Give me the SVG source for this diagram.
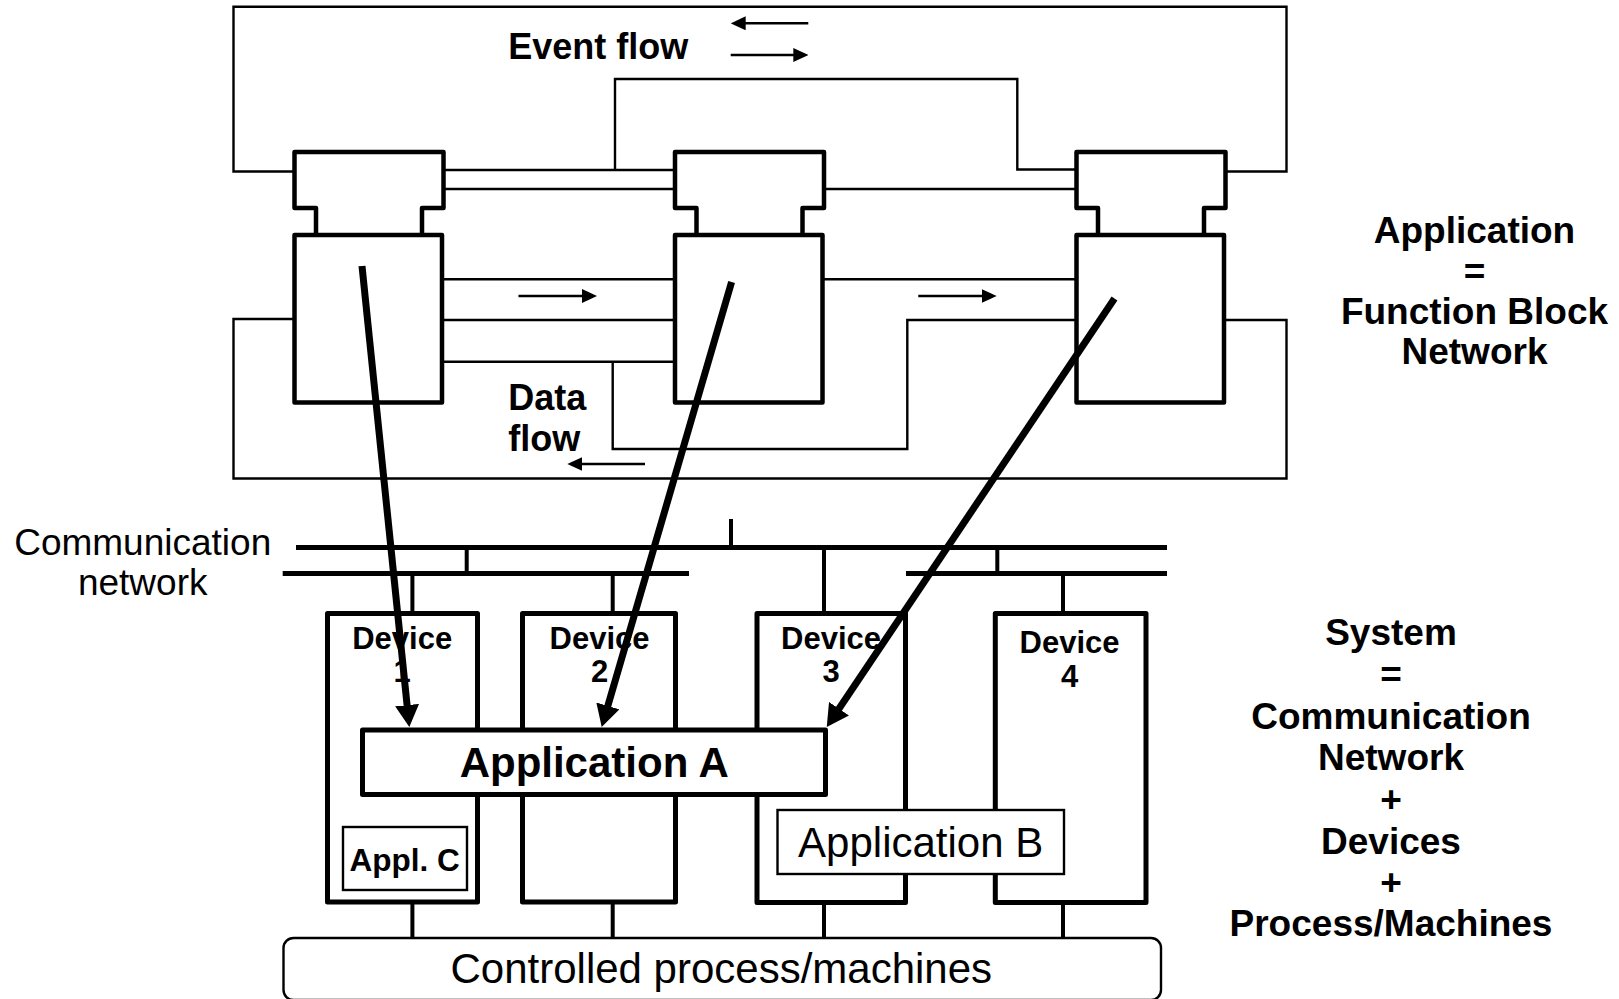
<svg xmlns="http://www.w3.org/2000/svg" xmlns:xlink="http://www.w3.org/1999/xlink" width="1619" height="999" viewBox="0 0 1619 999">
  <style>
    text { font-family: "Liberation Sans", Arial, Helvetica, sans-serif; fill: #000; }
    .b { font-weight: bold; }
    .mid { text-anchor: middle; }
    .thin { fill: none; stroke: #000; stroke-width: 2.4; }
    .fb { fill: #fff; stroke: #000; stroke-width: 4.5; stroke-linejoin: round; }
    .box { fill: #fff; stroke: #000; stroke-width: 5; stroke-linejoin: round; }
    .sub { fill: #fff; stroke: #000; stroke-width: 2.4; }
    .bus { stroke: #000; stroke-width: 5; }
    .tap { stroke: #000; stroke-width: 4; }
    .map { stroke: #000; stroke-width: 7; fill: none; marker-end: url(#head-l); }
    .flow { stroke: #000; stroke-width: 2.4; fill: none; marker-end: url(#head-s); }
  </style>
  <defs>
    <marker id="head-s" viewBox="0 0 15 14" refX="3" refY="7" markerWidth="15" markerHeight="14" markerUnits="userSpaceOnUse" orient="auto">
      <path d="M0,0 L15,7 L0,14 z" fill="#000"/>
    </marker>
    <marker id="head-l" viewBox="0 0 22 24" refX="7" refY="12" markerWidth="22" markerHeight="24" markerUnits="userSpaceOnUse" orient="auto">
      <path d="M0,0 L22,12 L0,24 z" fill="#000"/>
    </marker>
    <!-- function block: event head on top, algorithm body below -->
    <g id="fb-shape">
      <path class="fb" d="M21.5,235 V208 H0 V152 H149 V208 H127.5 V235"/>
      <rect class="fb" x="0" y="235" width="147.5" height="167.5"/>
    </g>
  </defs>

  <rect width="1619" height="999" fill="#fff"/>

  <!-- event and data connections of the function block network -->
  <g id="connectors">
    <!-- event feedback loop FB3 -> FB1 (top) -->
    <polyline class="thin" points="1225,171.5 1286.5,171.5 1286.5,6.7 233.5,6.7 233.5,171.5 294.5,171.5"/>
    <!-- event FB1 -> FB2, branch to FB3 -->
    <line class="thin" x1="443.5" y1="170" x2="675" y2="170"/>
    <polyline class="thin" points="615,170 615,79 1017.3,79 1017.3,169.5 1077,169.5"/>
    <line class="thin" x1="443.5" y1="189" x2="675" y2="189"/>
    <line class="thin" x1="823" y1="189" x2="1077" y2="189"/>
    <!-- data FB1 -> FB2 -->
    <line class="thin" x1="441.5" y1="279.3" x2="675" y2="279.3"/>
    <line class="thin" x1="441.5" y1="320" x2="675" y2="320"/>
    <line class="thin" x1="441.5" y1="361.7" x2="675" y2="361.7"/>
    <!-- data branch to FB3 -->
    <polyline class="thin" points="612.7,361.7 612.7,449 907.3,449 907.3,320 1076.5,320"/>
    <!-- data FB2 -> FB3 -->
    <line class="thin" x1="822" y1="279.3" x2="1076.5" y2="279.3"/>
    <!-- data feedback loop FB3 -> FB1 (bottom) -->
    <polyline class="thin" points="1224,320 1286.5,320 1286.5,478.5 233.5,478.5 233.5,319 294.5,319"/>

    <!-- direction indicators -->
    <line class="flow" x1="808.3" y1="23.3" x2="742.7" y2="23.3"/>
    <line class="flow" x1="730.7" y1="55" x2="796.3" y2="55"/>
    <line class="flow" x1="518.5" y1="296" x2="585" y2="296"/>
    <line class="flow" x1="918.3" y1="296" x2="984.7" y2="296"/>
    <line class="flow" x1="645" y1="464" x2="579.3" y2="464"/>

    <!-- communication network buses -->
    <line class="bus" x1="296" y1="547.5" x2="1167" y2="547.5"/>
    <line class="bus" x1="282.7" y1="573.5" x2="689" y2="573.5"/>
    <line class="bus" x1="906" y1="573.5" x2="1167" y2="573.5"/>
    <line class="tap" x1="731" y1="519" x2="731" y2="547.5"/>
    <line class="tap" x1="466.7" y1="547.5" x2="466.7" y2="573.5"/>
    <line class="tap" x1="997.3" y1="547.5" x2="997.3" y2="573.5"/>
    <line class="tap" x1="412.4" y1="573.5" x2="412.4" y2="613.5"/>
    <line class="tap" x1="612.7" y1="573.5" x2="612.7" y2="613.5"/>
    <line class="tap" x1="824" y1="547.5" x2="824" y2="613.5"/>
    <line class="tap" x1="1063" y1="573.5" x2="1063" y2="613.5"/>
    <!-- device to process links -->
    <line class="tap" x1="412.4" y1="902" x2="412.4" y2="938"/>
    <line class="tap" x1="612.7" y1="902" x2="612.7" y2="938"/>
    <line class="tap" x1="824" y1="902" x2="824" y2="938"/>
    <line class="tap" x1="1063" y1="902" x2="1063" y2="938"/>
  </g>

  <!-- function blocks -->
  <g id="fb1"><use xlink:href="#fb-shape" href="#fb-shape" x="294.5" y="0"/></g>
  <g id="fb2"><use xlink:href="#fb-shape" href="#fb-shape" x="675" y="0"/></g>
  <g id="fb3"><use xlink:href="#fb-shape" href="#fb-shape" x="1076.5" y="0"/></g>

  <!-- flow labels -->
  <g id="flow-labels" class="b">
    <text x="508.3" y="59" font-size="36">Event flow</text>
    <text x="508.3" y="410" font-size="36">Data</text>
    <text x="508.3" y="451" font-size="36">flow</text>
  </g>

  <g id="network-label">
    <text class="mid" x="142.7" y="555" font-size="37">Communication</text>
    <text class="mid" x="142.7" y="595" font-size="37">network</text>
  </g>

  <!-- devices -->
  <g id="device1">
    <rect class="box" x="327.5" y="613.5" width="150" height="288.5"/>
    <text class="b mid" x="402.2" y="649" font-size="31">Device</text>
    <text class="b mid" x="402.2" y="682" font-size="31">1</text>
  </g>
  <g id="device2">
    <rect class="box" x="522.5" y="613.5" width="153" height="288.5"/>
    <text class="b mid" x="599.5" y="649" font-size="31">Device</text>
    <text class="b mid" x="599.5" y="682" font-size="31">2</text>
  </g>
  <g id="device3">
    <rect class="box" x="757" y="613.5" width="148.5" height="289"/>
    <text class="b mid" x="831" y="649" font-size="31">Device</text>
    <text class="b mid" x="831" y="682" font-size="31">3</text>
  </g>
  <g id="device4">
    <rect class="box" x="995.3" y="613.5" width="150.7" height="289"/>
    <text class="b mid" x="1069.5" y="653" font-size="31">Device</text>
    <text class="b mid" x="1069.5" y="687" font-size="31">4</text>
  </g>

  <!-- applications mapped onto devices -->
  <g id="app-a">
    <rect class="box" x="362.5" y="730" width="463" height="64.5"/>
    <text class="b mid" x="594.2" y="776.5" font-size="42">Application A</text>
  </g>
  <g id="appl-c">
    <rect class="sub" x="343" y="827" width="124" height="63"/>
    <text class="b mid" x="404.7" y="871" font-size="31.5">Appl. C</text>
  </g>
  <g id="app-b">
    <rect class="sub" x="777.5" y="810" width="286.5" height="64"/>
    <text class="mid" x="920.7" y="857" font-size="42">Application B</text>
  </g>

  <!-- controlled process -->
  <g id="process">
    <rect class="sub" x="283.5" y="938" width="877.5" height="62" rx="10" ry="10"/>
    <text class="mid" x="721.3" y="983" font-size="42">Controlled process/machines</text>
  </g>

  <!-- right-hand definitions -->
  <g id="app-definition" font-size="37">
    <text class="b mid" x="1474.5" y="243">Application</text>
    <text class="b mid" x="1474.5" y="284">=</text>
    <text class="b mid" x="1474.5" y="324">Function Block</text>
    <text class="b mid" x="1474.5" y="364">Network</text>
  </g>
  <g id="system-definition" font-size="37">
    <text class="b mid" x="1391" y="645">System</text>
    <text class="b mid" x="1391" y="687">=</text>
    <text class="b mid" x="1391" y="729">Communication</text>
    <text class="b mid" x="1391" y="770">Network</text>
    <text class="b mid" x="1391" y="812">+</text>
    <text class="b mid" x="1391" y="854">Devices</text>
    <text class="b mid" x="1391" y="895">+</text>
    <text class="b mid" x="1391" y="936">Process/Machines</text>
  </g>

  <!-- mapping of function blocks to devices -->
  <g id="mapping">
    <line class="map" x1="362" y1="266" x2="407.8" y2="712.1"/>
    <line class="map" x1="731.6" y1="282" x2="605.9" y2="712.6"/>
    <line class="map" x1="1114.5" y1="298.5" x2="835.1" y2="714.5"/>
  </g>
</svg>
